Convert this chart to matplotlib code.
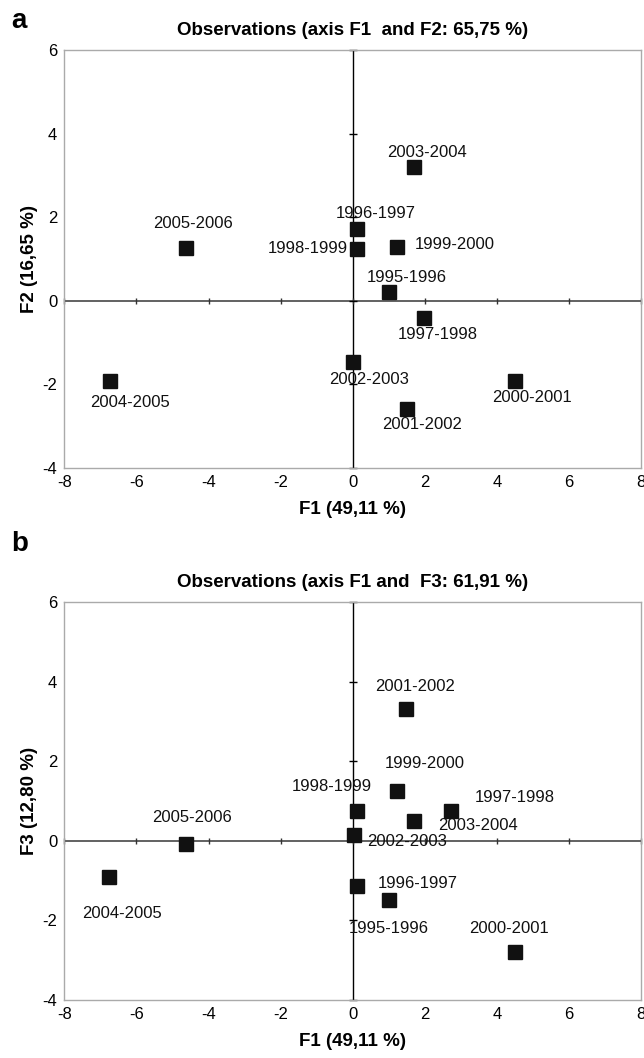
import matplotlib.pyplot as plt

# seasons and factor scores
seasons = ['1995-1996', '1996-1997', '1997-1998', '1998-1999', '1999-2000', '2000-2001',
           '2001-2002', '2002-2003', '2003-2004', '2004-2005', '2005-2006']
f1 = [1.01, 0.13, 1.98, 0.13, 1.22, 4.50, 1.49, 0.01, 1.69, -6.73, -4.62]
f2 = [0.20, 1.71, -0.42, 1.24, 1.28, -1.93, -2.58, -1.47, 3.20, -1.91, 1.26]
f1_b = [1.00, 0.13, 2.73, 0.12, 1.22, 4.50, 1.47, 0.02, 1.69, -6.76, -4.63]
f3 = [-1.49, -1.13, 0.75, 0.76, 1.25, -2.80, 3.31, 0.15, 0.50, -0.92, -0.07]

xticks = [-8, -6, -4, -2, 0, 2, 4, 6, 8]
yticks = [-4, -2, 0, 2, 4, 6]

# label offsets (pixels, x right / y up) and alignment for each season
offs_a = {'1995-1996': (18, 15, 'center'), '1996-1997': (18, 16, 'center'),
          '1997-1998': (14, -16, 'center'), '1998-1999': (-10, 0, 'right'),
          '1999-2000': (18, 3, 'left'), '2000-2001': (17, -16, 'center'),
          '2001-2002': (16, -16, 'center'), '2002-2003': (16, -17, 'center'),
          '2003-2004': (13, 15, 'center'), '2004-2005': (20, -22, 'center'),
          '2005-2006': (7, 25, 'center')}
offs_b = {'1995-1996': (0, -28, 'center'), '1996-1997': (60, 2, 'center'),
          '1997-1998': (64, 13, 'center'), '1998-1999': (-25, 24, 'center'),
          '1999-2000': (28, 28, 'center'), '2000-2001': (-6, 24, 'center'),
          '2001-2002': (9, 23, 'center'), '2002-2003': (54, -7, 'center'),
          '2003-2004': (64, -5, 'center'), '2004-2005': (13, -36, 'center'),
          '2005-2006': (6, 26, 'center')}

plt.rcParams['font.family'] = ['Liberation Sans', 'DejaVu Sans']
plt.rcParams['axes.unicode_minus'] = False


def draw_panel(ax, xs, ys, offs, title, xlabel, ylabel):
    ax.set_xlim(-8, 8)
    ax.set_ylim(-4, 6)
    for sp in ax.spines.values():
        sp.set_color('#aaaaaa')
        sp.set_linewidth(1)
    # axes through the origin with cross ticks
    ax.axhline(0, color='#555555', lw=1.3, zorder=1)
    ax.axvline(0, color='black', lw=1, zorder=1)
    ax.plot(xticks, [0] * len(xticks), ls='none', marker='|', ms=5, mew=1,
            color='#333333', zorder=1, clip_on=False)
    ax.plot([0] * len(yticks), yticks, ls='none', marker='_', ms=6, mew=1,
            color='black', zorder=1, clip_on=False)

    ax.plot(xs, ys, ls='none', marker='s', ms=10, color='#111111', zorder=3)
    for name, x, y in zip(seasons, xs, ys):
        dx, dy, ha = offs[name]
        ax.annotate(name, (x, y), xytext=(dx, dy), textcoords='offset pixels',
                    ha=ha, va='center', fontsize=12, color='#111111', zorder=4)

    ax.set_xticks(xticks)
    ax.set_yticks(yticks)
    ax.tick_params(length=0, labelsize=12, pad=5)
    ax.set_title(title, fontsize=13.5, fontweight='bold', pad=11)
    ax.set_xlabel(xlabel, fontsize=13.5, fontweight='bold', labelpad=8)
    ax.set_ylabel(ylabel, fontsize=13.5, fontweight='bold', labelpad=3)


fig = plt.figure(figsize=(6.44, 10.58), dpi=100)
ax1 = fig.add_axes([0.0998, 0.5577, 0.896, 0.3950])
ax2 = fig.add_axes([0.0998, 0.0548, 0.896, 0.3762])

draw_panel(ax1, f1, f2, offs_a, 'Observations (axis F1  and F2: 65,75 %)',
           'F1 (49,11 %)', 'F2 (16,65 %)')
draw_panel(ax2, f1_b, f3, offs_b, 'Observations (axis F1 and  F3: 61,91 %)',
           'F1 (49,11 %)', 'F3 (12,80 %)')

fig.text(0.018, 0.992, 'a', fontsize=20, fontweight='bold', va='top', ha='left')
fig.text(0.018, 0.498, 'b', fontsize=20, fontweight='bold', va='top', ha='left')

fig.savefig('out.png', dpi=100)
